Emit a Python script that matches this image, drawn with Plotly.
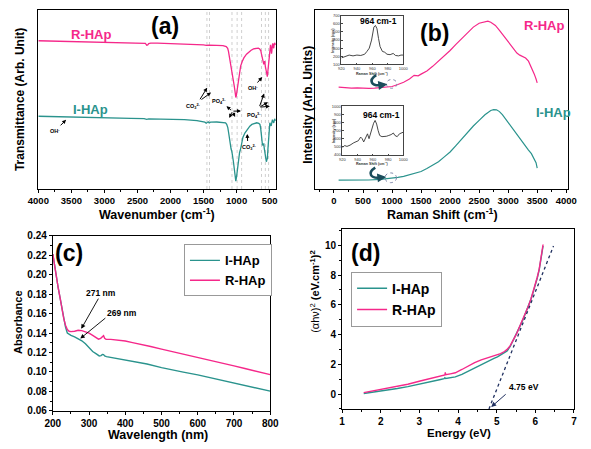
import plotly.graph_objects as go

W, H = 591, 449
def X(px): return px / W
def Y(py): return 1 - py / H

PINK = "#f5288a"
TEAL = "#2a938d"
DARK = "#1b4d5c"
FONT = "Liberation Sans"

# ---------------- (a) FTIR ----------------
ftir_wn_r = [4000,3800,3600,3400,3200,3000,2800,2600,2420,2380,2360,2345,2330,2300,2200,2000,1800,1600,1500,1460,1420,1300,1206,1157,1135,1123,1110,1099,1085,1070,1050,1036,1026,1018,1012,1004,992,983,973,962,955,939,915,890,850,817,780,744,700,671,650,633,625,615,608,600,589,582,574,565,558,550,542,535,528,516,508,501,494,487,480,472,467,460,453,446,438,430,420,410]
ftir_r = [152.3,152.0,151.8,151.6,151.2,150.9,150.6,150.3,150.0,149.6,147.6,148.0,149.4,149.8,149.8,149.5,149.0,148.5,148.1,147.6,147.8,147.6,147.3,146.3,144.5,141.3,136.5,131.3,127,121.3,114.7,106,101.3,96,94,96,101.3,108,114.7,119.5,122,126.3,131,134.7,138.5,140.7,142.6,144,144.7,144.7,143.8,142,139,135,134.7,131,128,130,131.3,126,122,121.3,117,115.3,120,128,137,143,147,148,145,139,141.3,147,149.7,146,144.7,149,150,148]
ftir_wn_i = [4000,3800,3650,3580,3560,3400,3200,3000,2800,2600,2400,2360,2330,2200,2000,1789,1600,1522,1480,1460,1445,1430,1415,1395,1300,1254,1200,1167,1150,1133,1120,1109,1097,1090,1084,1072,1060,1048,1036,1024,1012,1000,987,975,963,955,939,920,905,875,841,800,769,730,696,665,647,635,623,615,608,600,589,582,574,562,550,542,535,525,516,507,497,487,477,468,458,448,438,428,420,410]
ftir_i = [74.7,74.5,74.3,73.6,74.0,73.9,73.5,73.2,72.9,72.6,72.2,71.6,72.1,72.0,71.8,71.3,70.3,69.7,68.6,67.6,68.2,69.0,67.8,68.6,68.8,68.7,68.3,68,66.5,63,57.5,51.3,46.5,44.5,41.3,38.5,34.7,28,21.3,13,8,13,21.3,28,34.7,37.5,41.3,48,53,57.5,61.3,64.5,66.3,67.5,68,67.5,66.3,62,54.7,48,44.7,46,46.3,42,38,31,28,30,31.3,42,54.7,63,68,66,64.7,68,71.3,69,68,71,72,70]
ftir_ref_lines = [1449, 1410, 1070, 992, 924, 623, 565, 516]
ftir_ticks = [4000, 3500, 3000, 2500, 2000, 1500, 1000, 500]

# ---------------- (b) Raman ----------------
raman_x_r = [80,150,200,300,400,500,600,700,800,900,1000,1100,1200,1300,1350,1380,1420,1450,1500,1600,1700,1800,1900,2000,2100,2200,2300,2400,2500,2600,2650,2700,2780,2850,2920,3000,3080,3150,3200,3250,3300,3350,3400,3450,3480,3500]
raman_r = [104.7,104.2,104.5,103.7,103.9,103.5,103.3,103.6,104.0,104.7,105.3,107.3,109.7,113,115.5,116.8,116.5,116.3,118,121.3,126,131.3,136.7,142.3,148.5,154.7,160.5,166.3,170.3,172.3,172.5,171.3,168,163,157.5,152,146,139.7,137.5,136.3,134.5,131.3,125.5,118,113,109]
raman_x_i = [80,200,400,600,800,900,1000,1100,1200,1300,1400,1500,1600,1700,1800,1900,2000,2100,2200,2300,2400,2500,2600,2700,2750,2800,2850,2900,3000,3100,3200,3300,3350,3400,3450,3480,3500]
raman_i = [9,9,9,9.2,9.8,10.3,11.3,12,13,14.5,16,18,21,24.5,28,33,38,44.5,51.3,58,64.7,70.5,76.3,80.7,81.5,81.3,79.5,76.3,68,59.7,51.3,43,40,36.3,31.3,27,21.3]
raman_ticks = [0, 500, 1000, 1500, 2000, 2500, 3000, 3500, 4000]

inset_r_x = [920,925,930,935,940,945,950,953,956,959,962,964,966,968,970,973,976,979,983,987,990,994,997,1000]
inset_r_y = [180,200,215,205,215,210,225,260,300,400,560,580,540,420,320,260,250,225,220,235,210,205,215,215]
inset_i_x = [920,923,926,930,935,938,941,944,946,948,950,953,955,958,961,963,965,967,969,972,975,978,981,984,987,989,992,995,1000]
inset_i_y = [490,515,505,520,550,560,575,620,600,560,610,660,600,700,790,825,780,700,640,625,625,630,640,650,670,640,625,660,680]

# ---------------- (c) UV-vis ----------------
uv_x_r = [200,205,210,215,220,225,230,235,240,245,250,260,270,280,290,300,310,320,326,332,337,340,343,347,360,380,400,420,440,470,500,530,560,600,630,660,700,730,760,800]
uv_r = [0.221,0.208,0.196,0.186,0.176,0.165,0.155,0.148,0.1435,0.1418,0.1414,0.1418,0.1428,0.1425,0.1413,0.1398,0.1375,0.135,0.1337,0.1345,0.1365,0.1372,0.1345,0.1335,0.1335,0.1328,0.1318,0.1302,0.1288,0.1262,0.1235,0.1210,0.1185,0.1152,0.1125,0.1098,0.1062,0.1035,0.1008,0.0972]
uv_x_i = [200,205,210,215,220,225,230,235,240,245,250,260,270,280,290,300,310,320,328,333,337,340,343,348,360,380,400,430,460,500,530,560,600,630,660,700,730,760,790,800]
uv_i = [0.221,0.208,0.196,0.186,0.176,0.165,0.155,0.146,0.1400,0.1385,0.1375,0.1360,0.1343,0.1320,0.1290,0.1250,0.1210,0.1185,0.1165,0.1168,0.1180,0.1178,0.1165,0.1158,0.1150,0.1138,0.1128,0.1105,0.1082,0.1045,0.1020,0.0998,0.0970,0.0945,0.0918,0.0883,0.0858,0.0833,0.0808,0.0803]

# ---------------- (d) Tauc ----------------
tauc_x_i = [1.56,1.8,2.02,2.43,2.7,3.02,3.3,3.52,3.64,3.66,3.68,3.8,3.93,4.1,4.25,4.43,4.6,4.77,4.93,5.02,5.18,5.27,5.35,5.43,5.52,5.6,5.68,5.77,5.83,5.89,5.95,6.0,6.05,6.1,6.14,6.18,6.2]
tauc_i = [0.04,0.12,0.22,0.37,0.5,0.70,0.84,0.96,1.03,1.10,1.05,1.1,1.15,1.32,1.52,1.78,2.0,2.22,2.40,2.5,2.76,2.90,3.2,3.6,4.05,4.55,5.0,5.55,5.95,6.4,6.9,7.3,7.8,8.35,8.9,9.5,9.95]
tauc_x_r = [1.56,1.8,2.02,2.43,2.7,3.02,3.3,3.6,3.66,3.67,3.68,3.8,3.93,4.1,4.27,4.43,4.6,4.77,4.93,5.1,5.2,5.27,5.35,5.43,5.52,5.6,5.68,5.77,5.83,5.89,5.95,6.0,6.05,6.1,6.14,6.18,6.2]
tauc_r = [0.1,0.22,0.35,0.53,0.66,0.88,1.05,1.22,1.28,1.45,1.3,1.36,1.43,1.65,1.9,2.11,2.3,2.43,2.56,2.72,2.86,3.0,3.25,3.62,4.08,4.58,5.03,5.58,5.97,6.42,6.92,7.35,7.85,8.4,8.95,9.6,10.05]
tangent_x = [4.80, 6.47]
tangent_y = [-1.0, 9.95]

fig = go.Figure()
fig.add_trace(go.Scatter(x=ftir_wn_r, y=ftir_r, mode="lines", line=dict(color=PINK, width=1.3), xaxis="x", yaxis="y", showlegend=False))
fig.add_trace(go.Scatter(x=ftir_wn_i, y=ftir_i, mode="lines", line=dict(color=TEAL, width=1.3), xaxis="x", yaxis="y", showlegend=False))
fig.add_trace(go.Scatter(x=raman_x_r, y=raman_r, mode="lines", line=dict(color=PINK, width=1.2), xaxis="x2", yaxis="y2", showlegend=False))
fig.add_trace(go.Scatter(x=raman_x_i, y=raman_i, mode="lines", line=dict(color=TEAL, width=1.2), xaxis="x2", yaxis="y2", showlegend=False))
fig.add_trace(go.Scatter(x=uv_x_i, y=uv_i, mode="lines", name="I-HAp", line=dict(color=TEAL, width=1.4), xaxis="x3", yaxis="y3", legend="legend"))
fig.add_trace(go.Scatter(x=uv_x_r, y=uv_r, mode="lines", name="R-HAp", line=dict(color=PINK, width=1.4), xaxis="x3", yaxis="y3", legend="legend"))
fig.add_trace(go.Scatter(x=tauc_x_i, y=tauc_i, mode="lines", name="I-HAp", line=dict(color=TEAL, width=1.4), xaxis="x4", yaxis="y4", legend="legend2"))
fig.add_trace(go.Scatter(x=tauc_x_r, y=tauc_r, mode="lines", name="R-HAp", line=dict(color=PINK, width=1.4), xaxis="x4", yaxis="y4", legend="legend2"))
fig.add_trace(go.Scatter(x=tangent_x, y=tangent_y, mode="lines", line=dict(color="#1f2f5f", width=1.3, dash="dot"), xaxis="x4", yaxis="y4", showlegend=False))
fig.add_trace(go.Scatter(x=inset_r_x, y=inset_r_y, mode="lines", line=dict(color="#333333", width=0.9), xaxis="x5", yaxis="y5", showlegend=False))
fig.add_trace(go.Scatter(x=inset_i_x, y=inset_i_y, mode="lines", line=dict(color="#333333", width=0.9), xaxis="x6", yaxis="y6", showlegend=False))

tf = dict(family=FONT, size=9.5, color="black", weight="bold")
tf2 = dict(family=FONT, size=10, color="black", weight="bold")
base = dict(showline=True, mirror=True, linecolor="black", linewidth=1, showgrid=False, zeroline=False,
            ticks="outside", ticklen=3, tickcolor="black")
inset_font = dict(family=FONT, size=4, color="#333")
inset_base = dict(showline=True, mirror=True, linecolor="#444", linewidth=0.7, showgrid=False, zeroline=False,
                  ticks="inside", ticklen=1.5, tickcolor="#444", tickfont=inset_font)

fig.update_layout(
    width=W, height=H, margin=dict(l=0, r=0, t=0, b=0), autosize=False,
    paper_bgcolor="white", plot_bgcolor="white",
    font=dict(family=FONT, color="black"),
    xaxis=dict(**base, domain=[X(28.3), X(274)], range=[4000, 408], tickvals=ftir_ticks, tickfont=tf,
               minor=dict(ticks="outside", ticklen=2, dtick=250, tickcolor="black"), anchor="y"),
    yaxis=dict(showline=True, mirror=True, linecolor="black", linewidth=1, showgrid=False, zeroline=False,
               domain=[Y(188), Y(4)], range=[0, 184], showticklabels=False, ticks="", anchor="x"),
    xaxis2=dict(**base, domain=[X(315), X(576)], range=[-321, 4022], tickvals=raman_ticks, tickfont=tf,
                minor=dict(ticks="outside", ticklen=2, dtick=250, tickcolor="black"), anchor="y2"),
    yaxis2=dict(showline=True, mirror=True, linecolor="black", linewidth=1, showgrid=False, zeroline=False,
                domain=[Y(188), Y(4)], range=[0, 184], showticklabels=False, ticks="", anchor="x2"),
    xaxis3=dict(**base, domain=[X(43.3), X(268.3)], range=[200, 800], dtick=100, tickfont=tf2,
                minor=dict(ticks="outside", ticklen=2, dtick=50, tickcolor="black"), anchor="y3"),
    yaxis3=dict(**base, domain=[Y(416), Y(236)], range=[0.06, 0.24], dtick=0.02, tickformat=".2f", tickfont=tf2,
                minor=dict(ticks="outside", ticklen=2, dtick=0.01, tickcolor="black"), anchor="x3"),
    xaxis4=dict(**base, domain=[X(342.7), X(582.7)], range=[1, 7], dtick=1, tickfont=tf2,
                minor=dict(ticks="outside", ticklen=2, dtick=0.5, tickcolor="black"), anchor="y4"),
    yaxis4=dict(**base, domain=[Y(414), Y(229)], range=[-1, 11.1], tickvals=[0, 2, 4, 6, 8, 10], tickfont=tf2,
                minor=dict(ticks="outside", ticklen=2, dtick=1, tickcolor="black"), anchor="x4"),
    xaxis5=dict(**inset_base, domain=[X(342), X(406)], range=[920, 1000], dtick=20, anchor="y5"),
    yaxis5=dict(**inset_base, domain=[Y(60), Y(10)], range=[100, 700], dtick=100, anchor="x5"),
    xaxis6=dict(**inset_base, domain=[X(343), X(406)], range=[920, 1000], dtick=20, anchor="y6"),
    yaxis6=dict(**inset_base, domain=[Y(153), Y(103)], range=[400, 1000], dtick=100, anchor="x6"),
    legend=dict(x=X(179), y=Y(245), xanchor="left", yanchor="top", bgcolor="white", bordercolor="#999",
                borderwidth=1, font=dict(family=FONT, size=13, weight="bold", color="black"),
                itemwidth=30, tracegroupgap=0),
    legend2=dict(x=X(352), y=Y(273), xanchor="left", yanchor="top", bgcolor="white", bordercolor="#999",
                 borderwidth=1, font=dict(family=FONT, size=14, weight="bold", color="black"),
                 itemwidth=30, tracegroupgap=0),
)

shapes = []
for wn in ftir_ref_lines:
    shapes.append(dict(type="line", xref="x", yref="y domain", x0=wn, x1=wn, y0=0, y1=1,
                       line=dict(color="#cfcfcf", width=1, dash="dot"), layer="below"))
for cx, cy, rx, ry in [(394, 80, 5.5, 4.5), (393, 176.5, 6, 5)]:
    shapes.append(dict(type="circle", xref="paper", yref="paper", x0=X(cx - rx), x1=X(cx + rx),
                       y0=Y(cy + ry), y1=Y(cy - ry), line=dict(color="#7f88aa", width=1, dash="dot")))
for (sx, sy), (ex, ey) in [((378, 71), (385, 81)), ((377, 166), (384, 176))]:
    p = f"M {X(sx)},{Y(sy)} C {X(sx-8)},{Y(sy+5)} {X(sx-6)},{Y(ey+2)} {X(ex)},{Y(ey)}"
    shapes.append(dict(type="path", xref="paper", yref="paper", path=p, line=dict(color=DARK, width=2.6)))
fig.update_layout(shapes=shapes)

anns = []
def txt(t, px, py, size, color="black", bold=True, angle=0, xanchor="center"):
    anns.append(dict(text=f"<b>{t}</b>" if bold else t, x=X(px), y=Y(py), xref="paper", yref="paper",
                     showarrow=False, textangle=angle, xanchor=xanchor, yanchor="middle",
                     font=dict(family=FONT, size=size, color=color)))
def arr(hx, hy, tx, ty, color="black", width=1, size=0.8, head=2):
    anns.append(dict(text="", x=X(hx), y=Y(hy), xref="paper", yref="paper", showarrow=True,
                     ax=tx - hx, ay=ty - hy, axref="pixel", ayref="pixel", arrowhead=head,
                     arrowsize=size, arrowwidth=width, arrowcolor=color, standoff=0, startstandoff=0))

txt("(a)", 159, 21, 23)
txt("(b)", 438, 28, 23)
txt("(c)", 60, 254, 23)
txt("(d)", 367, 254, 23)
txt("R-HAp", 83, 29, 13, PINK)
txt("I-HAp", 82, 106, 13, TEAL)
txt("R-HAp", 552, 20, 13, PINK)
txt("I-HAp", 561, 109, 13, TEAL)
txt("Wavenumber (cm<sup>-1</sup>)", 151, 214, 12.5)
txt("Transmittance (Arb. Unit)", 10, 96, 12, angle=-90)
txt("Raman Shift (cm<sup>-1</sup>)", 447, 214, 12.5)
txt("Intensity (Arb. Units)", 308, 102, 12, angle=-90)
txt("Wavelength (nm)", 152, 440.5, 12.5)
txt("Absorbance", 8, 325, 11, angle=-90)
txt("Energy (eV)", 464, 439, 11.5)
anns.append(dict(text="(αhν)<sup>2</sup> <b>(eV.cm<sup>-1</sup>)<sup>2</sup></b>", x=X(315), y=Y(338), xref="paper",
                 yref="paper", showarrow=False, textangle=-90, font=dict(family=FONT, size=11, color="black")))
txt("CO<sub>3</sub><sup>2-</sup>", 189, 103, 5.5)
arr(203, 84, 195, 97); arr(207, 89, 196, 97)
txt("PO<sub>4</sub><sup>3-</sup>", 215, 98, 5.5)
for hx, hy in [(223, 103), (226, 115), (232, 114), (238, 108)]:
    arr(hx, hy, 229, 108)
txt("OH<sup>-</sup>", 250, 84, 5.5)
arr(260, 73, 254, 80)
txt("PO<sub>4</sub><sup>3-</sup>", 252, 112, 5.5)
for hx, hy in [(262, 90), (266, 99), (268, 103)]:
    arr(hx, hy, 257, 104)
txt("CO<sub>3</sub><sup>2-</sup>", 247, 145, 5.5)
arr(244.5, 131.5, 245, 140)
txt("OH<sup>-</sup>", 46, 128, 5.5)
arr(57, 117, 50, 124)
txt("964 cm-1", 380, 15, 8.5)
txt("964 cm-1", 383, 112, 8.5)
txt("Raman Shift (cm<sup>-1</sup>)", 374, 69, 3.6, color="#333")
txt("Raman Shift (cm<sup>-1</sup>)", 374, 162, 3.6, color="#333")
txt("Intensity (cps)", 333, 35, 3.6, color="#333", angle=-90)
txt("Intensity (cps)", 334, 128, 3.6, color="#333", angle=-90)
arr(389.5, 80.5, 384, 81.2, color=DARK, width=2, size=0.9)
arr(388.5, 175.6, 383, 176.2, color=DARK, width=2, size=0.9)
txt("271 nm", 93, 295, 8.5)
txt("269 nm", 115, 315, 8.5)
arr(72.7, 331.7, 90.7, 300, width=0.9, size=1)
arr(71.7, 341.7, 98.3, 320, width=0.9, size=1)
txt("4.75 eV", 531, 391, 8.5)
arr(497, 412, 513, 398, color="#1f2f5f", width=1, size=1)
fig.update_layout(annotations=anns)

fig.write_html("out.html", config={"displayModeBar": False, "responsive": False},
               post_script="document.body.style.margin='0px';document.body.style.overflow='hidden';")
